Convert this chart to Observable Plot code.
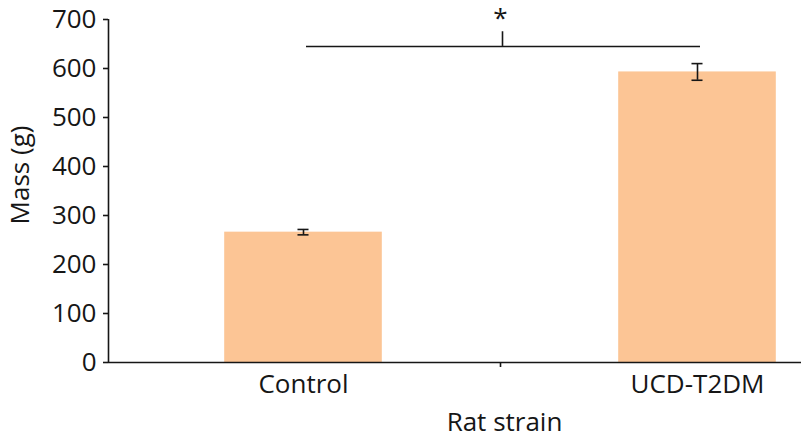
<!DOCTYPE html>
<html><head><meta charset="utf-8">
<script src="https://cdn.jsdelivr.net/npm/d3@7"></script>
<script src="https://cdn.jsdelivr.net/npm/@observablehq/plot@0.6"></script>
<style>html,body{margin:0;padding:0;background:#fff;overflow:hidden}</style>
</head><body><div id="chart"></div>
<script>
// ---- data ----
const categories = ["Control", "UCD-T2DM"];
const means = [266, 593];
const errors = [5.5, 17];
const yTicks = [0, 100, 200, 300, 400, 500, 600, 700];
const bracketFrom = 0;      // category index
const bracketTo = 1;        // category index
const bracketY = 645;       // g
const bracketTickTop = 675; // g
const starY = 684;          // g (baseline of the asterisk)
const sigLabel = "*";
const xLabel = "Rat strain";
const yLabel = "Mass (g)";

const data = categories.map((c, i) => ({i, c, mean: means[i], err: errors[i]}));
const ink = "#161616";
const barFill = "#fcc595";
const font = "'Open Sans', sans-serif";
const cap = 0.014; // half cap width in band units
const bw = 0.2;    // half bar width in band units

const chart = Plot.plot({
  width: 801, height: 437,
  marginTop: 19, marginBottom: 75, marginLeft: 108, marginRight: 0,
  style: {fontFamily: font, background: "#fff", color: ink},
  x: {domain: [-0.5, 1.5], range: [106, 894], axis: null},
  y: {domain: [0, 700], axis: null},
  marks: [
    Plot.rectY(data, {x1: d => d.i - bw, x2: d => d.i + bw, y1: 0, y2: "mean", fill: barFill}),
    // error bars
    Plot.ruleX(data, {x: "i", y1: d => d.mean - d.err, y2: d => d.mean + d.err, stroke: ink, strokeWidth: 1.6}),
    Plot.ruleY(data, {y: d => d.mean - d.err, x1: d => d.i - cap, x2: d => d.i + cap, stroke: ink, strokeWidth: 1.6}),
    Plot.ruleY(data, {y: d => d.mean + d.err, x1: d => d.i - cap, x2: d => d.i + cap, stroke: ink, strokeWidth: 1.6}),
    // axes lines
    Plot.ruleY([0], {stroke: ink, strokeWidth: 1.6}),
    Plot.ruleX([-0.5], {y1: 0, y2: 700, dx: 2, stroke: ink, strokeWidth: 1.6}),
    Plot.axisY({anchor: "left", ticks: yTicks, tickSize: 5, tickPadding: 7, fontSize: 26, label: null, stroke: ink, strokeWidth: 1.6, fill: ink}),
    Plot.axisX({anchor: "bottom", ticks: [0.5], tickSize: 5, tickFormat: () => "", label: null, stroke: ink, strokeWidth: 1.6}),
    Plot.axisX({anchor: "bottom", ticks: [0, 1], tickSize: 0, tickPadding: 12, tickFormat: i => categories[i], fontSize: 26, label: null, fill: ink}),
    // significance bracket
    Plot.ruleY([bracketY], {x1: bracketFrom, x2: bracketTo, dx: 3, stroke: ink, strokeWidth: 1.6}),
    Plot.ruleX([(bracketFrom + bracketTo) / 2], {y1: bracketY, y2: bracketTickTop, dx: 2, stroke: ink, strokeWidth: 1.6}),
    Plot.text([sigLabel], {x: () => (bracketFrom + bracketTo) / 2, y: () => starY, text: d => d, lineAnchor: "bottom", fontSize: 26, fill: ink}),
    // axis titles
    Plot.text([xLabel], {x: () => 0.5, y: () => 0, text: d => d, dy: 68, dx: 4, textAnchor: "middle", lineAnchor: "bottom", fontSize: 26, fill: ink}),
    Plot.text([yLabel], {frameAnchor: "left", text: d => d, rotate: -90, dx: -80, dy: -16, textAnchor: "middle", lineAnchor: "bottom", fontSize: 26, fill: ink})
  ]
});
document.getElementById("chart").appendChild(chart);
</script>
</body></html>
